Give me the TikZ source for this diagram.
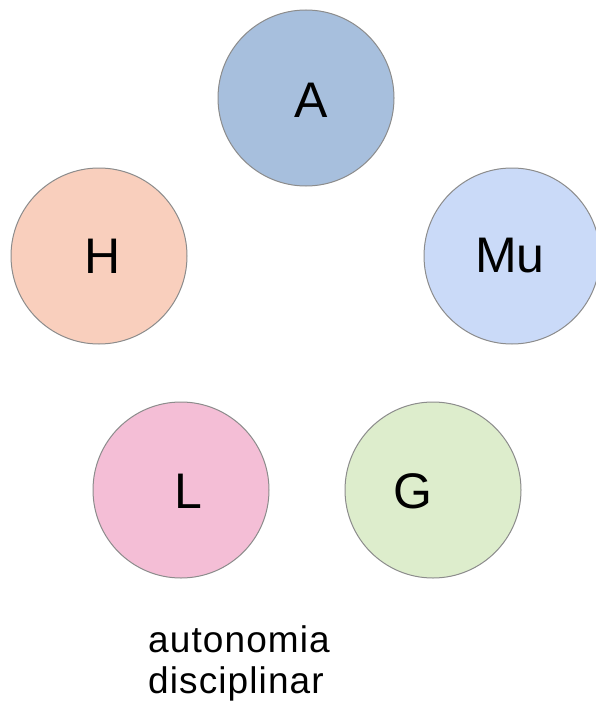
\documentclass[tikz,border=0pt]{standalone}
\usepackage{fontspec}
\setmainfont{Liberation Sans}
\definecolor{colA}{HTML}{A7BFDD}
\definecolor{colH}{HTML}{F9CFBD}
\definecolor{colMu}{HTML}{CADAF8}
\definecolor{colL}{HTML}{F4BED6}
\definecolor{colG}{HTML}{DDEDCC}
\definecolor{rim}{HTML}{8C8C8C}
\tikzset{
  disc/.style={circle,draw=rim,line width=1pt,minimum size=176pt,inner sep=0pt},
  letter/.style={font=\fontsize{50}{50}\selectfont},
  caption/.style={anchor=base west,inner sep=0pt,font=\fontsize{37}{37}\selectfont\addfontfeature{LetterSpace=3}}
}
\begin{document}
\begin{tikzpicture}[x=1pt,y=-1pt]

\useasboundingbox (0,0) rectangle (595,706) ;

\node[disc,fill=colA,label={[letter,xshift=5pt,yshift=-2pt]center:A}] (nA) at (306,98) {} ;
\node[disc,fill=colH,label={[letter,xshift=4pt]center:H}] (nH) at (99,256) {} ;
\node[disc,fill=colMu,label={[letter,xshift=-2pt]center:Mu}] (nMu) at (512,256) {} ;
\node[disc,fill=colL,label={[letter,xshift=7pt,yshift=-1pt]center:L}] (nL) at (181,490) {} ;
\node[disc,fill=colG,label={[letter,xshift=-20pt,yshift=-1pt]center:G}] (nG) at (433,490) {} ;

\node[caption] (cap1) at (148,652) {autonomia} ;
\node[caption] (cap2) at (148,693) {disciplinar} ;

\end{tikzpicture}
\end{document}
